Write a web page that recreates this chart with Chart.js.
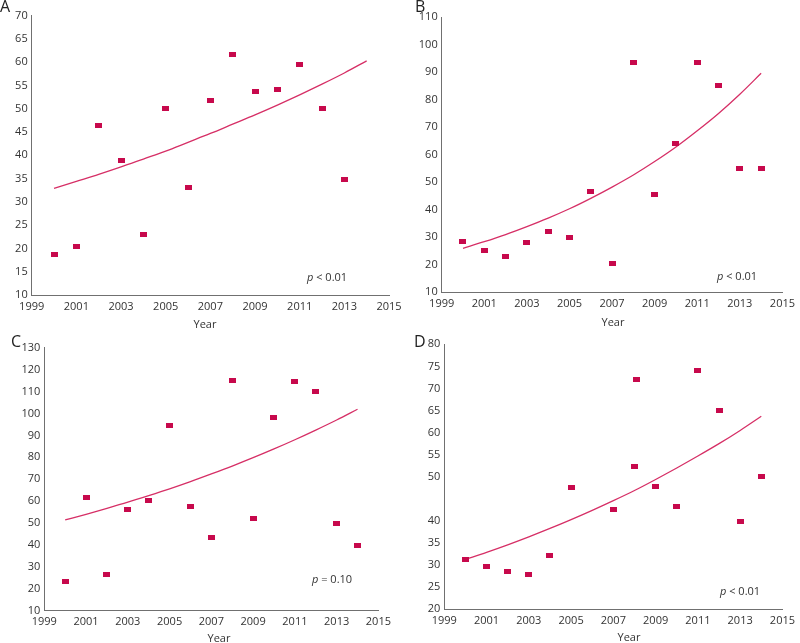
<!DOCTYPE html>
<html><head><meta charset="utf-8">
<script src="https://cdn.jsdelivr.net/npm/chart.js@4.4.1/dist/chart.umd.min.js"></script>
<style>
html,body{margin:0;padding:0;background:#fff;overflow:hidden;width:800px;height:643px;}
canvas{position:absolute;}
</style></head><body>
<canvas id="cA" width="420" height="335" style="left:0;top:0"></canvas>
<canvas id="cB" width="400" height="335" style="left:400px;top:0"></canvas>
<canvas id="cC" width="420" height="323" style="left:0;top:320px"></canvas>
<canvas id="cD" width="400" height="323" style="left:400px;top:320px"></canvas>
<script>
// ---- data ----
const yearsA = [2000,2001,2002,2003,2004,2005,2006,2007,2008,2009,2010,2011,2012,2013];
const valuesA = [18.6,20.5,46.5,38.9,23.0,50.0,33.1,51.8,61.6,53.7,54.2,59.5,50.0,34.8];
const yearsB = [2000,2001,2002,2003,2004,2005,2006,2007,2008,2009,2010,2011,2012,2013,2014];
const valuesB = [28.4,25.0,23.0,28.1,32.0,29.8,46.7,20.3,93.7,45.6,64.1,93.7,85.2,55.0,55.0];
const yearsC = [2000,2001,2002,2003,2004,2005,2006,2007,2008,2009,2010,2011,2012,2013,2014];
const valuesC = [23.5,61.6,26.7,56.4,60.5,94.3,57.5,43.5,115.2,52.0,98.1,114.6,109.8,49.8,39.8];
const yearsD = [2000,2001,2002,2003,2004,2005,2007,2008,2008.1,2009,2010,2011,2012,2013,2014];
const valuesD = [31.2,29.6,28.6,27.9,32.2,47.6,42.6,52.4,72.1,47.7,43.3,74.1,65.1,39.9,50.0];

const trendYears = [2000,2001,2002,2003,2004,2005,2006,2007,2008,2009,2010,2011,2012,2013,2014];
const trendA = [32.9,34.4,35.9,37.5,39.2,40.9,42.8,44.7,46.7,48.7,50.8,53.0,55.3,57.7,60.3];
const trendB = [25.9,28.3,30.9,33.8,36.9,40.3,44.1,48.2,52.6,57.5,62.8,68.7,75.0,82.0,89.6];
const trendC = [51.4,54.0,56.7,59.5,62.5,65.6,68.9,72.4,76.0,79.8,83.8,88.0,92.4,97.0,101.9];
const trendD = [31.3,32.9,34.6,36.4,38.3,40.3,42.4,44.6,46.9,49.4,52.0,54.7,57.5,60.5,63.7];

const xTickRange = [1999, 2015];
const yRangeA = [10, 70, 5];
const yRangeB = [10, 110, 10];
const yRangeC = [10, 130, 10];
const yRangeD = [20, 80, 5];
const hiddenTicksD = [45];

const pTextA = '< 0.01', pTextB = '< 0.01', pTextC = '= 0.10', pTextD = '< 0.01';
const xTitle = 'Year';

// ---- styles ----
const FONT = '"Open Sans", "Noto Sans", sans-serif';
const MARK = '#c7094c';
const LINE = '#d62f66';
const AXIS = '#707070';
const TXT = '#333';

const marker = document.createElement('canvas');
marker.width = 7; marker.height = 5;
(function(){ const g = marker.getContext('2d'); g.fillStyle = MARK; g.fillRect(0,0,7,5); })();

function makePanel(id, letter, xs, ys, tys, yr, hidden, area, pText, txt) {
  const cv = document.getElementById(id);
  const W = cv.width, H = cv.height, XH = 20;
  const textPlugin = {
    id: 'texts',
    afterDraw(chart) {
      const ctx = chart.ctx;
      ctx.save();
      ctx.fillStyle = '#222';
      ctx.font = '16px ' + FONT;
      ctx.textAlign = 'left'; ctx.textBaseline = 'alphabetic';
      ctx.fillText(letter, txt.lx, txt.ly);
      ctx.fillStyle = TXT;
      ctx.font = '11px ' + FONT;
      ctx.textAlign = 'center';
      ctx.fillText(xTitle, txt.yx, txt.yy);
      ctx.textAlign = 'left';
      ctx.font = 'italic 11px ' + FONT;
      ctx.fillText('p', txt.px, txt.py);
      const pw = ctx.measureText('p ').width;
      ctx.font = '11px ' + FONT;
      ctx.fillText(pText, txt.px + pw, txt.py);
      ctx.restore();
    }
  };
  return new Chart(cv, {
    data: {
      datasets: [
        { type: 'scatter', data: xs.map((x,i)=>({x, y: ys[i]})), pointStyle: marker, pointRadius: 4, pointHoverRadius: 4, order: 1 },
        { type: 'line', data: trendYears.map((x,i)=>({x, y: tys[i]})), borderColor: LINE, borderWidth: 1.3, pointRadius: 0, tension: 0.4, cubicInterpolationMode: 'monotone', fill: false, order: 2 }
      ]
    },
    options: {
      responsive: false, animation: false, devicePixelRatio: 1,
      events: [],
      layout: { padding: { left: 0, top: area.top, right: W - area.right, bottom: H - area.bottom - XH } },
      plugins: { legend: { display: false }, tooltip: { enabled: false } },
      scales: {
        x: {
          type: 'linear', min: xTickRange[0], max: xTickRange[1],
          grid: { display: false, drawTicks: false },
          border: { display: true, color: AXIS, width: 1 },
          ticks: { stepSize: 2, padding: 5, color: TXT, font: { family: FONT, size: 11 }, maxRotation: 0, autoSkip: false, callback: v => String(v) },
          afterFit: s => { s.height = XH; }
        },
        y: {
          type: 'linear', min: yr[0], max: yr[1],
          grid: { display: false, drawTicks: false },
          border: { display: true, color: AXIS, width: 1 },
          ticks: { stepSize: yr[2], padding: 4, color: TXT, font: { family: FONT, size: 11 }, autoSkip: false,
                   callback: v => hidden.includes(v) ? '' : String(v) },
          afterFit: s => { s.width = area.left; }
        }
      }
    },
    plugins: [textPlugin]
  });
}

makePanel('cA', 'A', yearsA, valuesA, trendA, yRangeA, [],
  { left: 31.7, top: 15.7, bottom: 295, right: 389 }, pTextA,
  { lx: 0, ly: 12, yx: 205, yy: 328, px: 307, py: 281 });
makePanel('cB', 'B', yearsB, valuesB, trendB, yRangeB, [],
  { left: 41.7, top: 17.3, bottom: 292, right: 389 }, pTextB,
  { lx: 15, ly: 12, yx: 213, yy: 326, px: 317, py: 280 });
makePanel('cC', 'C', yearsC, valuesC, trendC, yRangeC, [],
  { left: 44.3, top: 27.7, bottom: 290.7, right: 378.4 }, pTextC,
  { lx: 11, ly: 27, yx: 219, yy: 322, px: 312, py: 263 });
makePanel('cD', 'D', yearsD, valuesD, trendD, yRangeD, hiddenTicksD,
  { left: 44.3, top: 24.3, bottom: 289.3, right: 388.3 }, pTextD,
  { lx: 14, ly: 27, yx: 229, yy: 321, px: 320, py: 275 });
</script>
</body></html>
